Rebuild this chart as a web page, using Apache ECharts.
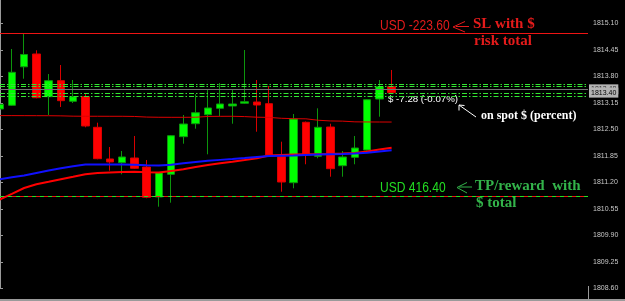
<!DOCTYPE html>
<html>
<head>
<meta charset="utf-8">
<script src="https://cdn.jsdelivr.net/npm/echarts@6/dist/echarts.min.js"></script>
<style>
html,body{margin:0;padding:0;background:#000;}
#c{width:625px;height:301px;}
</style>
</head>
<body>
<div id="c"></div>
<script>
// ---- data ----
const BASE = 1808.60;            // lowest tick label on price axis
const TICK_STEP = 0.65;
const slotCount = 48;            // bar slots visible in the window
const opens  = [1812.998,1813.089,1814.033,1814.347,1813.300,1813.692,1813.187,1813.300,1812.549,1811.772,1811.681,1811.796,1811.575,1810.840,1811.396,1812.319,1812.637,1812.858,1813.015,1813.072,1813.138,1813.170,1813.128,1811.828,1811.190,1812.672,1811.838,1812.556,1811.607,1811.813,1811.992,1813.243,1813.545];
const closes = [1813.113,1813.898,1814.335,1813.275,1813.692,1813.202,1813.300,1812.581,1811.779,1811.698,1811.821,1811.543,1810.832,1811.436,1812.343,1812.630,1812.907,1813.023,1813.121,1813.121,1813.177,1813.096,1811.870,1811.207,1812.753,1811.894,1812.549,1811.534,1811.821,1812.041,1813.226,1813.545,1813.400];
const lows   = [1812.973,1813.072,1813.741,1813.260,1812.851,1813.047,1813.145,1812.549,1811.764,1811.485,1811.396,1811.526,1810.808,1810.602,1810.700,1812.147,1812.515,1811.887,1812.826,1812.637,1813.121,1812.441,1811.845,1810.969,1811.053,1811.642,1811.789,1811.337,1811.337,1811.642,1811.975,1812.809,1813.378];
const highs  = [1813.145,1814.470,1814.862,1814.438,1813.856,1814.077,1813.709,1813.383,1812.662,1812.066,1811.968,1812.336,1811.747,1811.453,1812.360,1812.851,1813.359,1813.464,1813.636,1813.464,1814.445,1813.709,1813.562,1812.196,1812.875,1812.691,1813.015,1812.637,1811.968,1812.336,1813.243,1813.709,1813.955];
const maThin = [1812.836,1812.836,1812.835,1812.834,1812.833,1812.830,1812.822,1812.820,1812.820,1812.819,1812.819,1812.815,1812.800,1812.795,1812.794,1812.794,1812.796,1812.815,1812.818,1812.819,1812.812,1812.797,1812.792,1812.770,1812.760,1812.757,1812.722,1812.705,1812.700,1812.683,1812.680,1812.679,1812.678];
const maRed  = [1810.778,1810.918,1811.060,1811.151,1811.212,1811.274,1811.335,1811.399,1811.431,1811.443,1811.453,1811.458,1811.445,1811.440,1811.480,1811.519,1811.575,1811.624,1811.669,1811.705,1811.747,1811.791,1811.857,1811.870,1811.882,1811.887,1811.887,1811.894,1811.904,1811.919,1811.956,1812.005,1812.049];
const maBlue = [1811.276,1811.323,1811.367,1811.428,1811.489,1811.543,1811.593,1811.634,1811.639,1811.639,1811.637,1811.632,1811.620,1811.615,1811.632,1811.666,1811.698,1811.727,1811.750,1811.772,1811.796,1811.821,1811.845,1811.853,1811.860,1811.870,1811.880,1811.889,1811.894,1811.904,1811.924,1811.953,1811.985];
const slLevel = 1814.85;
const tpLevel = 1810.85;
const orderLevels = [1813.611, 1813.545, 1813.390, 1813.324];
const askLevel = 1813.48;
const bidLevel = 1813.40;
const slText = 'USD -223.60';
const tpText = 'USD 416.40';
const spotText = '$ -7.28 (-0.07%)';

// ---- build ----
const rel = v => v - BASE;
const slots = [];
for (let i = 0; i < slotCount; i++) slots.push(String(i));
const candles = opens.map((o, i) => [rel(o), rel(closes[i]), rel(lows[i]), rel(highs[i])]);
const yMin = 0, yMax = 11 * TICK_STEP;

const boxLabel = (txt, col) => ({ show: true, position: 'end', distance: 1, formatter: txt,
  backgroundColor: '#b4b4b4', color: col, fontSize: 7, fontFamily: 'Liberation Sans', padding: [1.5, 2, 1.5, 2] });
const markData = [
  { yAxis: rel(slLevel), lineStyle: { color: '#ee1414', width: 1, type: 'solid' } },
  { yAxis: rel(tpLevel), lineStyle: { color: '#ee1414', width: 1, type: 'solid' } },
  { yAxis: rel(tpLevel), lineStyle: { color: '#22e022', width: 1, type: [4, 4] } },
  { yAxis: rel(askLevel), lineStyle: { color: '#747474', width: 1, type: 'solid' }, label: boxLabel(askLevel.toFixed(2), '#303030') }
];
orderLevels.forEach(v => markData.push({ yAxis: rel(v), lineStyle: { color: '#33e633', width: 1, type: [5, 2, 1.5, 2] } }));
markData.push({ yAxis: rel(bidLevel), lineStyle: { color: 'rgba(0,0,0,0)', width: 1 }, label: boxLabel(bidLevel.toFixed(2), '#000') });

const chart = echarts.init(document.getElementById('c'), null, { renderer: 'canvas' });
const serif = '"Liberation Serif", "Times New Roman", serif';
const sans = '"Liberation Sans", Arial, sans-serif';
chart.setOption({
  animation: false,
  backgroundColor: '#000',
  grid: [
    { left: 0, top: -3.2, width: 588, height: 291.5, containLabel: false, outerBoundsMode: 'none' },
    { left: -6.5, top: -3.2, width: 588, height: 291.5, containLabel: false, outerBoundsMode: 'none' }
  ],
  xAxis: [
    { gridIndex: 0, type: 'value', min: 0, max: 1, show: false },
    { gridIndex: 1, type: 'category', data: slots, boundaryGap: true, show: false }
  ],
  yAxis: [
    { gridIndex: 0, type: 'value', position: 'right', min: yMin, max: yMax, interval: TICK_STEP,
      axisLine: { show: true, lineStyle: { color: '#9a9a9a', width: 1 } },
      axisTick: { show: true, inside: false, length: 3, lineStyle: { color: '#9a9a9a' } },
      splitLine: { show: false },
      axisLabel: { color: '#c8c8c8', fontSize: 7, fontFamily: sans, margin: 5, showMaxLabel: false,
        formatter: v => (v + BASE).toFixed(2) } },
    { gridIndex: 1, type: 'value', min: yMin, max: yMax, show: false, splitLine: { show: false } }
  ],
  series: [
    { type: 'line', name: 'levels', xAxisIndex: 0, yAxisIndex: 0, data: [], clip: false, silent: true,
      markLine: { symbol: ['none', 'none'], silent: true, animation: false, label: { show: false }, data: markData } },
    { type: 'candlestick', name: 'price', xAxisIndex: 1, yAxisIndex: 1, data: candles, barWidth: 8,
      itemStyle: { color: '#00ff00', color0: '#ff0000', borderColor: '#0c950c', borderColor0: '#d80000', borderWidth: 1 } },
    { type: 'line', name: 'maThin', xAxisIndex: 1, yAxisIndex: 1, data: maThin.map(rel), symbol: 'none',
      lineStyle: { color: '#dd0000', width: 1 }, z: 3 },
    { type: 'line', name: 'maRed', xAxisIndex: 1, yAxisIndex: 1, data: maRed.map(rel), symbol: 'none',
      lineStyle: { color: '#ff0000', width: 2 }, z: 3 },
    { type: 'line', name: 'maBlue', xAxisIndex: 1, yAxisIndex: 1, data: maBlue.map(rel), symbol: 'none',
      lineStyle: { color: '#1010ff', width: 2 }, z: 3 }
  ],
  graphic: [
    { type: 'rect', shape: { x: 0, y: 299, width: 625, height: 2 }, style: { fill: '#9a9a9a' }, silent: true },
    { type: 'line', shape: { x1: 588.5, y1: 286, x2: 588.5, y2: 299 }, style: { stroke: '#9a9a9a', lineWidth: 1 }, silent: true },
    { type: 'text', x: 380, y: 26, scaleX: 0.86, style: { text: slText, fill: '#e41b1b', font: '14px ' + sans, align: 'left', verticalAlign: 'middle' } },
    { type: 'polyline', shape: { points: [[465, 21.5], [453, 27], [465, 32]] }, style: { stroke: '#e41b1b', lineWidth: 1, fill: null } },
    { type: 'line', shape: { x1: 456, y1: 26.5, x2: 469, y2: 26.5 }, style: { stroke: '#e41b1b', lineWidth: 1 } },
    { type: 'text', x: 473, y: 24.5, style: { text: 'SL with $', fill: '#e41b1b', font: 'bold 15px ' + serif, align: 'left', verticalAlign: 'middle' } },
    { type: 'text', x: 474, y: 41.5, style: { text: 'risk total', fill: '#e41b1b', font: 'bold 15px ' + serif, align: 'left', verticalAlign: 'middle' } },
    { type: 'text', x: 388, y: 99, style: { text: spotText, fill: '#ffffff', font: '9.7px ' + sans, align: 'left', verticalAlign: 'middle' } },
    { type: 'line', shape: { x1: 459, y1: 105, x2: 476, y2: 117 }, style: { stroke: '#ffffff', lineWidth: 1 } },
    { type: 'polyline', shape: { points: [[459, 110.5], [459, 105], [464.5, 105.5]] }, style: { stroke: '#ffffff', lineWidth: 1, fill: null } },
    { type: 'text', x: 481, y: 116, style: { text: 'on spot $ (percent)', fill: '#ffffff', font: 'bold 12px ' + serif, align: 'left', verticalAlign: 'middle' } },
    { type: 'text', x: 380, y: 188.5, scaleX: 0.86, style: { text: tpText, fill: '#22dd22', font: '14px ' + sans, align: 'left', verticalAlign: 'middle' } },
    { type: 'polyline', shape: { points: [[467, 182.5], [457, 187.5], [467, 193]] }, style: { stroke: '#33b34a', lineWidth: 1, fill: null } },
    { type: 'line', shape: { x1: 459, y1: 187, x2: 472, y2: 187 }, style: { stroke: '#33b34a', lineWidth: 1 } },
    { type: 'text', x: 475, y: 185.7, style: { text: 'TP/reward  with', fill: '#33b34a', font: 'bold 15px ' + serif, align: 'left', verticalAlign: 'middle' } },
    { type: 'text', x: 476, y: 203, style: { text: '$ total', fill: '#33b34a', font: 'bold 15px ' + serif, align: 'left', verticalAlign: 'middle' } }
  ]
});
</script>
</body>
</html>
